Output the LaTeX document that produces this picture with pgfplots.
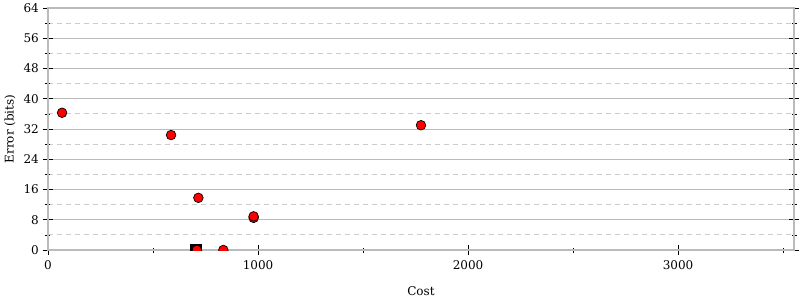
\documentclass[border=0pt]{standalone}
\usepackage{fontspec}
\setmainfont{DejaVu Serif}
\usepackage{pgfplots}
\pgfplotsset{compat=1.18}
\definecolor{axgray}{HTML}{999999}
\definecolor{axlight}{HTML}{BBBBBB}
\definecolor{gridgray}{HTML}{BBBBBB}
\definecolor{mgridgray}{HTML}{CCCCCC}
\begin{document}
\fontsize{12}{14}\selectfont
\begin{tikzpicture}
\path[use as bounding box] (0,0) rectangle (800pt,300pt);
\begin{axis}[
  at={(48pt,50pt)}, anchor=south west,
  scale only axis, width=746pt, height=242pt,
  xmin=0, xmax=3552, ymin=0, ymax=64,
  axis x line=box, axis y line=box,
  every outer x axis line/.append style={draw=axgray, line width=1.6pt},
  every outer y axis line/.append style={draw=axlight, line width=1.6pt},
  xtick={0,1000,2000,3000},
  minor xtick={500,1500,2500,3500},
  ytick={0,8,...,64},
  minor ytick={4,12,...,60},
  xtick pos=bottom, ytick pos=both,
  tick align=center,
  major tick length=10pt, minor tick length=5pt,
  every tick/.style={black, line width=0.8pt},
  every minor tick/.style={black, line width=0.5pt},
  ymajorgrids, yminorgrids,
  major grid style={draw=gridgray, line width=0.8pt},
  minor grid style={draw=mgridgray, line width=0.8pt, dash pattern=on 5pt off 4pt},
  scaled x ticks=false,
  clip marker paths=true,
  /pgf/number format/assume math mode=true,
  /pgf/number format/set thousands separator={},
  xticklabel style={font=\fontsize{12}{14}\selectfont, yshift=-1pt},
  yticklabel style={font=\fontsize{12}{14}\selectfont, xshift=0pt},
  xlabel={Cost},
  ylabel={Error (bits)},
  xlabel style={at={(axis description cs:0.5,-0.169)}, anchor=center, font=\fontsize{12}{14}\selectfont},
  ylabel style={at={(axis description cs:-0.051,0.5)}, anchor=center, font=\fontsize{12}{14}\selectfont},
]
\addplot[only marks, mark=square*, mark size=5.6pt, mark options={fill=black, draw=black}]
  coordinates {(705,0)};
\addplot[only marks, mark=*, mark size=4.8pt, mark options={fill=red, draw=black, line width=0.7pt}]
  coordinates {
  (67,36.3)
  (586,30.4)
  (716,13.8)
  (979,8.5)
  (979,8.9)
  (1776,33.0)
  (709,0)
  (835,0)
  };
\end{axis}
\end{tikzpicture}
\end{document}
